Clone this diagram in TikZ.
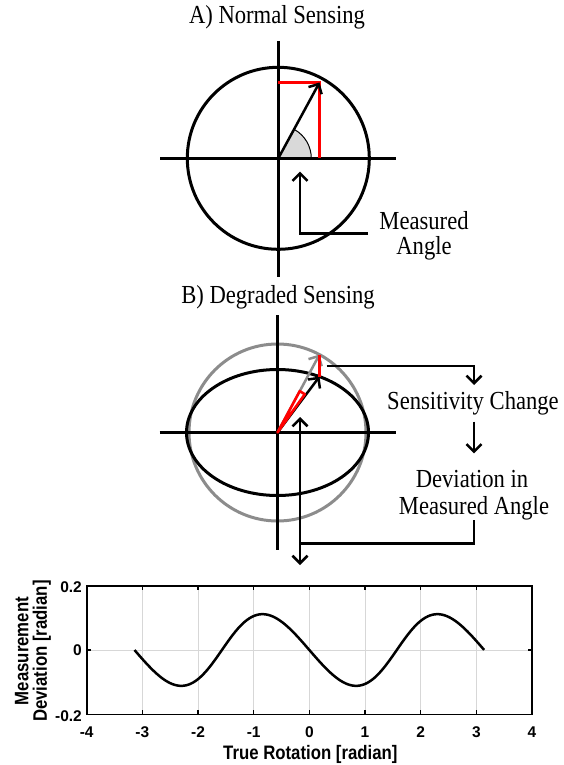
\documentclass[tikz,border=0pt]{standalone}
\usepackage{fontspec}
\setmainfont{Liberation Serif}
\newfontfamily\serifc[FakeStretch=0.87]{Liberation Serif}
\newfontfamily\sansc[FakeStretch=0.86]{Liberation Sans}
\newfontfamily\sansn{Liberation Sans}
\usetikzlibrary{arrows.meta,calc}
\definecolor{gcirc}{RGB}{140,140,140}
\definecolor{wedgefill}{RGB}{217,217,217}
\definecolor{gridc}{RGB}{215,215,215}
\begin{document}
\begin{tikzpicture}[x=1pt,y=-1pt,
  >={Straight Barb[length=7.5pt,width=15pt]},
  lbl/.style={font=\serifc\fontsize{26}{28}\selectfont, inner sep=0pt, anchor=base},
  axisline/.style={line width=3pt},
  conn/.style={line width=2.5pt},
  vec/.style={line width=2.5pt,->},
  redline/.style={red, line width=3pt},
  ticklbl/.style={font=\sansn\bfseries\fontsize{15.5}{17}\selectfont, inner sep=0pt},
  axlbl/.style={font=\sansc\bfseries\fontsize{19.5}{19.5}\selectfont, inner sep=0pt}]
\fill[white] (0,0) rectangle (563,765);
\useasboundingbox (0,0) rectangle (563,765);

% ---------- A) Normal Sensing ----------
\node[lbl] (titleA) at (277,24) {A) Normal Sensing};
\coordinate (A) at (278.3,158.3);
\coordinate (A1) at (319.5,82.5);
\coordinate (Aryt) at (278.3,82.5);
\coordinate (Aryb) at (319.5,158.3);
\fill[wedgefill] (A) -- ++(33,0) arc[start angle=0,end angle=-61.5,radius=33] -- cycle;
\draw[line width=1pt] (A) ++(33,0) arc[start angle=0,end angle=-61.5,radius=33];
\draw[axisline] (A) circle[radius=91];
\draw[axisline] ($(A)+(-118,0)$) -- ($(A)+(118,0)$);
\draw[axisline] ($(A)+(0,-117.5)$) -- ($(A)+(0,118.5)$);
\draw[redline] (Aryt) -- (A1) -- (Aryb);
\draw[vec] (A) -- (A1);
\node[lbl] (measA1) at (424,229) {Measured};
\node[lbl] (measA2) at (424,254) {Angle};
\coordinate (mA0) at (368,233.3);
\coordinate (mA1) at (300,233.3);
\coordinate (mA2) at (300,171.7);
\draw[conn,->] (mA0) -- (mA1) -- (mA2);

% ---------- B) Degraded Sensing ----------
\node[lbl] (titleB) at (278,303) {B) Degraded Sensing};
\coordinate (B) at (277.5,432.5);
\coordinate (Bc) at (319.5,354.5);
\coordinate (Be) at (319.5,376.6);
\draw[gcirc, line width=3pt] (B) circle[radius=88.5];
\draw[line width=3pt] (B) ellipse[x radius=91, y radius=63];
\draw[axisline] ($(B)+(-118,0)$) -- ($(B)+(118,0)$);
\draw[axisline] ($(B)+(0,-117.5)$) -- ($(B)+(0,117.5)$);
\draw[gcirc, vec] (B) -- (Bc);
\draw[vec] (B) -- (Be);
\draw[red, line width=2.6pt, fill=white, line join=round] (B) -- ++(-54.5:47) arc[start angle=-54.5,end angle=-61.7,radius=47] -- cycle;
\draw[redline] (Bc) -- (Be);

\node[lbl] (sens) at (473,409) {Sensitivity Change};
\node[lbl] (dev1) at (472,487) {Deviation in};
\node[lbl] (dev2) at (474,514) {Measured Angle};
\coordinate (s0) at (326.7,366);
\coordinate (s1) at (474,366);
\coordinate (s2) at (474,385);
\draw[conn,->] (s0) -- (s1) -- (s2);
\coordinate (d0) at (474,421.7);
\coordinate (d1) at (474,453.3);
\draw[conn,->] (d0) -- (d1);
\coordinate (e0) at (474,520);
\coordinate (e1) at (474,543.3);
\coordinate (e2) at (300,543.3);
\draw[conn] (e0) -- (e1) -- (e2);
\coordinate (v0) at (300,417);
\coordinate (v1) at (300,565);
\draw[conn,<->] (v0) -- (v1);

% ---------- Plot ----------
\def\pxo{309.35}\def\pxs{55.66}
\def\pyo{650}\def\pys{322}
\foreach \t in {-3,...,3}{
  \draw[gridc, line width=1pt] ({\pxo+\pxs*\t},585.6) -- ({\pxo+\pxs*\t},714.4);
}
\draw[gridc, line width=1pt] (86.7,650) -- (532,650);
\draw[line width=2.5pt, line join=round]
  plot[domain=-pi:pi, samples=150, smooth]
  ({\pxo+\pxs*\x}, {\pyo-\pys*rad(atan(-sin(2*\x r)/(9+cos(2*\x r))))});
\draw[line width=1.8pt] (86.7,585.6) rectangle (532,714.4);
\foreach \t in {-4,...,4}{
  \draw[line width=1.5pt] ({\pxo+\pxs*\t},585.6) -- ++(0,4.5);
  \draw[line width=1.5pt] ({\pxo+\pxs*\t},714.4) -- ++(0,-4.5);
  \node[ticklbl, anchor=base] at ({\pxo+\pxs*\t},737) {\t};
}
\foreach \yy/\lab in {587/0.2, 650/0, 716/-0.2}{
  \node[ticklbl, anchor=east] at (82,\yy) {\lab};
}
\foreach \yy in {585.6, 650, 714.4}{
  \draw[line width=1.5pt] (86.7,\yy) -- ++(4.5,0);
  \draw[line width=1.5pt] (532,\yy) -- ++(-4.5,0);
}
\node[axlbl, anchor=base] (xlab) at (310.3,759.5) {True Rotation [radian]};
\node[axlbl, rotate=90, align=center] (ylab) at (33,651) {Measurement\\[-1pt]Deviation [radian]};
\end{tikzpicture}
\end{document}
